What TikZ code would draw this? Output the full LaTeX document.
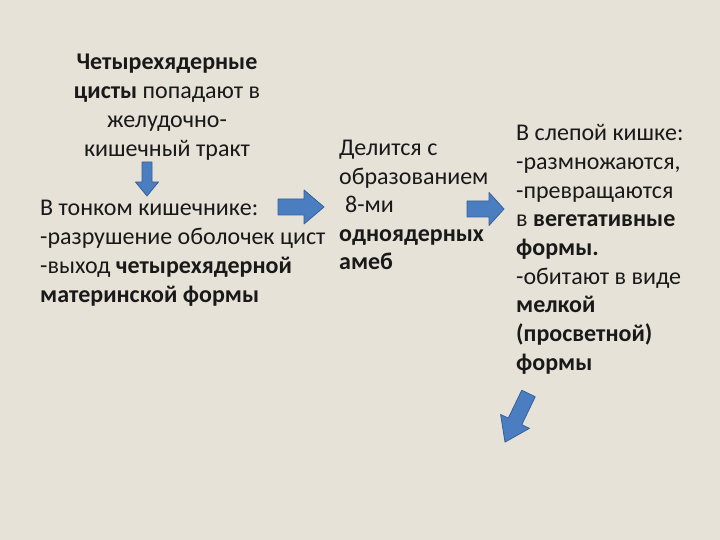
\documentclass[tikz,border=0pt]{standalone}
\usepackage{fontspec}
\setmainfont{Carlito}
\definecolor{bg}{RGB}{231,226,216}
\definecolor{arrfill}{RGB}{74,126,193}
\definecolor{arredge}{RGB}{55,95,155}
\newcommand\blockarr[6]{%
  \begin{scope}[shift={#1},rotate=#2]
    \filldraw[barrow] (0,#4) -- ({#3-#6},#4) -- ({#3-#6},#5) -- (#3,0)
      -- ({#3-#6},-#5) -- ({#3-#6},-#4) -- (0,-#4) -- cycle;
  \end{scope}}
\begin{document}
\begin{tikzpicture}[x=1pt,y=1pt,
  barrow/.style={fill=arrfill,draw=arredge,line width=0.8pt,line join=round},
  txt/.style={inner sep=0pt,anchor=base west,font=\fontsize{24}{29}\selectfont,text=black!90},
  ctxt/.style={txt,anchor=base}]
\fill[bg] (0,0) rectangle (720,540);
\useasboundingbox (0,0) rectangle (720,540);
% top block
\node[ctxt] (a1) at (167,470) {\textbf{Четырехядерные}};
\node[ctxt] (a2) at (167,441) {\textbf{цисты} попадают в};
\node[ctxt] (a3) at (167,412) {желудочно-};
\node[ctxt] (a4) at (167,383) {кишечный тракт};
% lower left block
\node[txt] (b1) at (40,324) {В тонком кишечнике:};
\node[txt] (b2) at (40,295) {-разрушение оболочек цист};
\node[txt] (b3) at (40,266) {-выход \textbf{четырехядерной}};
\node[txt] (b4) at (40,237) {\textbf{материнской формы}};
% middle block
\node[txt] (c1) at (339,384) {Делится с};
\node[txt] (c2) at (339,355) {образованием};
\node[txt] (c3) at (345,327) {8-ми};
\node[txt] (c4) at (339,298) {\textbf{одноядерных}};
\node[txt] (c5) at (339,270) {\textbf{амеб}};
% right block
\node[txt] (d1) at (516,399) {В слепой кишке:};
\node[txt] (d2) at (516,370) {-размножаются,};
\node[txt] (d3) at (516,341) {-превращаются};
\node[txt] (d4) at (516,313) {в \textbf{вегетативные}};
\node[txt] (d5) at (516,284) {\textbf{формы.}};
\node[txt] (d6) at (516,255) {-обитают в виде};
\node[txt] (d7) at (516,227) {\textbf{мелкой}};
\node[txt] (d8) at (516,198) {\textbf{(просветной)}};
\node[txt] (d9) at (516,169) {\textbf{формы}};
% arrows
\blockarr{(147,378)}{-90}{34}{5}{11.5}{14}
\blockarr{(278,333)}{0}{46}{8}{17}{20}
\blockarr{(467,331)}{0}{37}{8}{16.5}{15}
\blockarr{(528.5,146.5)}{-115.8}{54}{7.5}{16}{23}
\end{tikzpicture}
\end{document}
